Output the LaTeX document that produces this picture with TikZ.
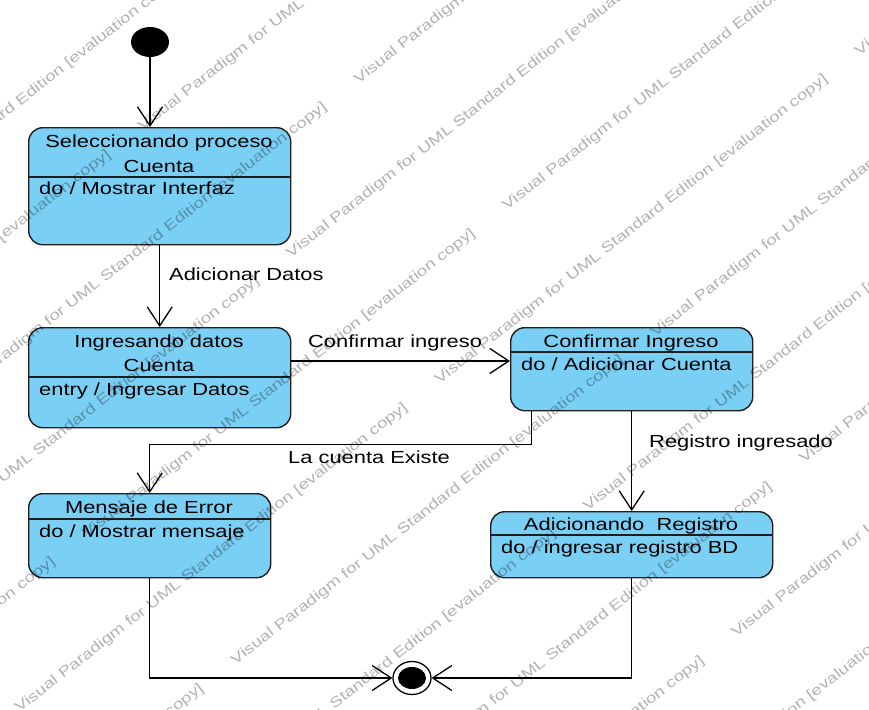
\documentclass[tikz,border=0pt]{standalone}
\usepackage{fontspec}
\setmainfont{Liberation Sans}[FakeStretch=1.25]
\newfontfamily\wmfont{Liberation Sans}[FakeStretch=1.3]
\usetikzlibrary{arrows.meta,shapes.geometric}
\definecolor{vpblue}{RGB}{122,207,245}
\definecolor{vpline}{RGB}{30,30,30}
\begin{document}
\begin{tikzpicture}[x=1pt,y=-1pt,
  statebox/.style={draw=vpline, fill=vpblue, line width=1.4pt, rounded corners=14pt, anchor=north west, inner sep=0pt},
  divider/.style={draw=vpline, line width=1.3pt},
  lbl/.style={anchor=base west, inner sep=0pt, font=\fontsize{17.5}{20}\selectfont},
  ttl/.style={anchor=base, inner sep=0pt, font=\fontsize{17.5}{20}\selectfont},
  tr/.style={draw=black, line width=1.3pt, -{Straight Barb[length=19pt,width=25pt,line width=1.3pt]}},
  wm/.style={anchor=base west, inner sep=0pt, rotate=38, text=black, text opacity=0.3, font=\wmfont\fontsize{14.3}{16}\selectfont}]
\useasboundingbox (0,0) rectangle (869,709);
\fill[white] (0,0) rectangle (869,709);

% states
\node[statebox, minimum width=262pt, minimum height=117pt] (s1) at (28,127) {};
\draw[divider] (s1.west |- 0,177) -- (s1.east |- 0,177);
\node[ttl] (s1a) at (159,147) {Seleccionando proceso};
\node[ttl] (s1b) at (159,172) {Cuenta};
\node[lbl] (s1c) at (39,194) {do / Mostrar Interfaz};

\node[statebox, minimum width=262pt, minimum height=100pt] (s2) at (28,327) {};
\draw[divider] (s2.west |- 0,377) -- (s2.east |- 0,377);
\node[ttl] (s2a) at (159,347) {Ingresando datos};
\node[ttl] (s2b) at (159,371) {Cuenta};
\node[lbl] (s2c) at (39,395) {entry / Ingresar Datos};

\node[statebox, minimum width=242pt, minimum height=83pt] (s3) at (510,327) {};
\draw[divider] (s3.west |- 0,352) -- (s3.east |- 0,352);
\node[ttl] (s3a) at (631,347) {Confirmar Ingreso};
\node[lbl] (s3c) at (521,370) {do / Adicionar Cuenta};

\node[statebox, minimum width=242pt, minimum height=84pt] (s4) at (28,493) {};
\draw[divider] (s4.west |- 0,519) -- (s4.east |- 0,519);
\node[ttl] (s4a) at (149,513) {Mensaje de Error};
\node[lbl] (s4c) at (39,537) {do / Mostrar mensaje};

\node[statebox, minimum width=282pt, minimum height=66pt] (s5) at (490,511) {};
\draw[divider] (s5.west |- 0,535) -- (s5.east |- 0,535);
\node[ttl] (s5a) at (631,530) {Adicionando~ Registro};
\node[lbl] (s5c) at (501,553) {do / ingresar registro BD};

% pseudo states
\node[ellipse, fill=black, minimum width=38pt, minimum height=30pt, inner sep=0pt] (ini) at (150,42) {};
\node[ellipse, draw=black, line width=1.3pt, fill=white, minimum width=38pt, minimum height=33pt, inner sep=0pt] (fin) at (412,678) {};
\fill[black] (fin.center) ellipse [x radius=14pt, y radius=11pt];

% transitions
\draw[tr] (ini) -- (ini |- s1.north);
\draw[tr] (s1.south) -- (s2.north);
\draw[tr] (s2.east |- 0,361) -- (s3.west |- 0,361);
\draw[tr] ([xshift=-100pt]s3.south) -- ++(0,33) -| (s4.north);
\draw[tr] (s3.south) -- (s5.north);
\draw[tr] (s4.south) |- (fin.west);
\draw[tr] (s5.south) |- (fin.east);

% labels
\node[lbl] (l1) at (169,280) {Adicionar Datos};
\node[lbl] (l2) at (308,347) {Confirmar ingreso};
\node[lbl] (l3) at (288,463) {La cuenta Existe};
\node[lbl] (l4) at (649,447) {Registro ingresado};

% watermark
\begin{scope}
\clip (0,0) rectangle (869,709);
\foreach \j in {0,...,12}{
  \foreach \m in {-3,...,3}{
    \pgfmathsetmacro\uu{11.5+19.5*\j+180*(1-mod(\j,2))+533*\m}
    \pgfmathsetmacro\nn{96+95.5*\j}
    \pgfmathsetmacro\xx{0.788*\uu+0.616*\nn}
    \pgfmathsetmacro\yy{-0.616*\uu+0.788*\nn}
    \node[wm] (wm\j x\m) at (\xx,\yy) {Visual Paradigm for UML Standard Edition [evaluation copy]};
  }
}
\end{scope}
\end{tikzpicture}
\end{document}
